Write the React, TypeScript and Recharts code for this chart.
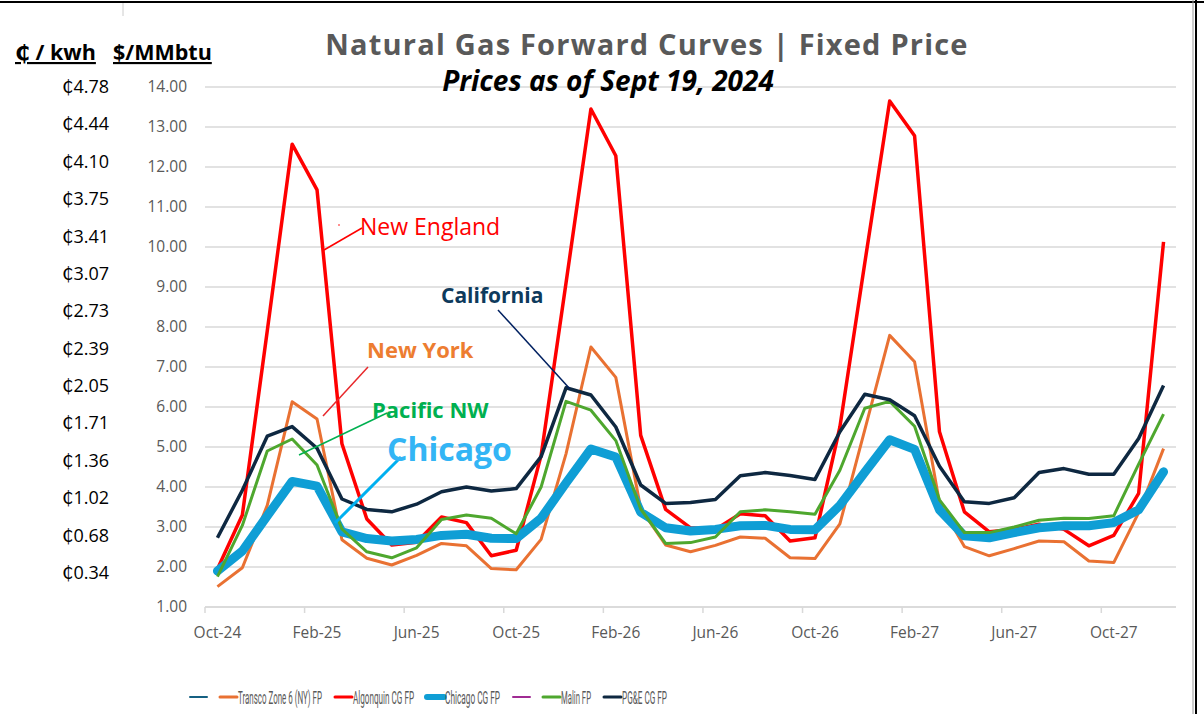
import React, { useLayoutEffect, useRef, useState } from "react";
import { CartesianGrid, Line, LineChart, XAxis, YAxis } from "recharts";

const months = [
  "Oct-24", "Nov-24", "Dec-24",
  "Jan-25", "Feb-25", "Mar-25", "Apr-25", "May-25", "Jun-25", "Jul-25", "Aug-25", "Sep-25", "Oct-25", "Nov-25", "Dec-25",
  "Jan-26", "Feb-26", "Mar-26", "Apr-26", "May-26", "Jun-26", "Jul-26", "Aug-26", "Sep-26", "Oct-26", "Nov-26", "Dec-26",
  "Jan-27", "Feb-27", "Mar-27", "Apr-27", "May-27", "Jun-27", "Jul-27", "Aug-27", "Sep-27", "Oct-27", "Nov-27", "Dec-27",
];

// $/MMbtu
const transco = [
  1.51, 1.98, 3.54, 6.13, 5.7, 2.68, 2.22, 2.05, 2.29, 2.59, 2.53, 1.96, 1.93,
  2.69, 4.83, 7.5, 6.74, 3.46, 2.55, 2.38, 2.54, 2.75, 2.72, 2.23, 2.21,
  3.08, 5.43, 7.79, 7.13, 3.6, 2.51, 2.28, 2.46, 2.65, 2.63, 2.15, 2.11, 3.36, 4.96,
];
const algonquin = [
  1.95, 3.3, 7.9, 12.57, 11.43, 5.08, 3.2, 2.55, 2.62, 3.25, 3.11, 2.28, 2.42,
  4.79, 9.1, 13.45, 12.28, 5.29, 3.44, 2.98, 2.94, 3.33, 3.28, 2.65, 2.73,
  5.5, 9.6, 13.65, 12.78, 5.38, 3.38, 2.88, 2.94, 3.07, 2.94, 2.53, 2.79, 3.84, 10.13,
];
const chicago = [
  1.9, 2.4, 3.28, 4.14, 4.02, 2.88, 2.71, 2.65, 2.69, 2.79, 2.82, 2.72, 2.71,
  3.22, 4.1, 4.95, 4.75, 3.37, 2.98, 2.9, 2.94, 3.03, 3.04, 2.94, 2.93,
  3.54, 4.37, 5.18, 4.94, 3.43, 2.78, 2.73, 2.86, 2.98, 3.03, 3.03, 3.11, 3.43, 4.38,
];
const malin = [
  1.76, 3.04, 4.9, 5.2, 4.55, 2.95, 2.38, 2.23, 2.48, 3.19, 3.3, 3.22, 2.83,
  4.0, 6.14, 5.92, 5.16, 3.45, 2.59, 2.61, 2.75, 3.38, 3.43, 3.38, 3.32,
  4.42, 5.97, 6.14, 5.52, 3.68, 2.86, 2.86, 3.0, 3.17, 3.22, 3.21, 3.28, 4.57, 5.82,
];
const pge = [
  2.73, 3.92, 5.27, 5.51, 4.97, 3.7, 3.44, 3.38, 3.57, 3.88, 4.0, 3.9, 3.96,
  4.76, 6.48, 6.3, 5.5, 4.05, 3.59, 3.61, 3.69, 4.28, 4.36, 4.29, 4.19,
  5.38, 6.32, 6.18, 5.78, 4.52, 3.63, 3.59, 3.73, 4.36, 4.46, 4.32, 4.32, 5.21, 6.54,
];

const usdTicks = [1, 2, 3, 4, 5, 6, 7, 8, 9, 10, 11, 12, 13, 14];
const centTicks = [
  "₵0.34", "₵0.68", "₵1.02", "₵1.36", "₵1.71", "₵2.05", "₵2.39",
  "₵2.73", "₵3.07", "₵3.41", "₵3.75", "₵4.10", "₵4.44", "₵4.78",
];

const legendNames = ["", "Transco Zone 6 (NY) FP", "Algonquin CG FP", "Chicago CG FP", "", "Malin FP", "PG&E CG FP"];

const data = months.map((m, i) => ({
  month: m,
  transco: transco[i],
  algonquin: algonquin[i],
  chicago: chicago[i],
  malin: malin[i],
  pge: pge[i],
}));

// plot box (page px)
const PLOT_LEFT = 205;
const PLOT_RIGHT = 1176;
const PLOT_TOP = 87;
const PLOT_BOTTOM = 607;
const BAND = (PLOT_RIGHT - PLOT_LEFT) / months.length;

const FONT = "'Open Sans', 'DejaVu Sans', sans-serif";
const GRID = "#D9D9D9";

const legendStyle = [
  { color: "#156082", width: 2, textW: 0 },
  { color: "#E97132", width: 3, textW: 84 },
  { color: "#FF0000", width: 3, textW: 61 },
  { color: "#0F9ED5", width: 6, textW: 55 },
  { color: "#A02B93", width: 2, textW: 0 },
  { color: "#4EA72E", width: 3, textW: 30 },
  { color: "#0E2841", width: 3, textW: 45 },
];

const YTick = (props: any) => {
  const { y, payload } = props;
  const idx = usdTicks.indexOf(payload.value);
  // the ¢ column sits in its own text box, slightly tighter than the grid
  const cy = PLOT_TOP + (y - PLOT_TOP) * (486 / 520);
  return (
    <g>
      <text x={187} y={y} dy={5} textAnchor="end" fill="#595959" fontSize={15.5} fontFamily={FONT}>
        {payload.value.toFixed(2)}
      </text>
      <text x={109} y={cy} dy={6} textAnchor="end" fill="#000" fontSize={18} fontFamily={FONT}>
        {centTicks[idx]}
      </text>
    </g>
  );
};

const XTick = (props: any) => {
  const { x, payload } = props;
  return (
    <g>
      <line x1={x - BAND / 2} x2={x - BAND / 2} y1={PLOT_BOTTOM} y2={PLOT_BOTTOM + 6} stroke={GRID} strokeWidth={1.5} />
      <text x={x} y={PLOT_BOTTOM + 31} textAnchor="middle" fill="#595959" fontSize={15.5} fontFamily={FONT}>
        {payload.value}
      </text>
    </g>
  );
};

// legend text in the source is a very condensed face, squeeze it to the same width
const NarrowLabel = ({ x, y, w, children }: { x: number; y: number; w: number; children: string }) => {
  const ref = useRef<SVGTextElement>(null);
  const [k, setK] = useState(0.5);
  useLayoutEffect(() => {
    const el = ref.current;
    if (el) {
      const len = el.getComputedTextLength();
      if (len > 0) setK(w / len);
    }
  }, [w]);
  return (
    <text
      ref={ref}
      transform={`translate(${x},${y}) scale(${k},1)`}
      fill="#595959"
      fontSize={19}
      fontFamily="Roboto, 'Noto Sans', sans-serif"
    >
      {children}
    </text>
  );
};

const LegendRow = () => {
  let cx = 190;
  const items = legendNames.map((name, i) => {
    const st = legendStyle[i];
    const x0 = cx;
    cx += 18 + (name ? st.textW + 1 : 0) + 12;
    return (
      <g key={i}>
        <line x1={x0} x2={x0 + 17} y1={697} y2={697} stroke={st.color} strokeWidth={st.width} strokeLinecap="round" />
        {name && (
          <NarrowLabel x={x0 + 18} y={704} w={st.textW}>
            {name}
          </NarrowLabel>
        )}
      </g>
    );
  });
  return <g>{items}</g>;
};

export default function App() {
  return (
    <div style={{ position: "fixed", left: 0, top: 0, width: 1204, height: 714, background: "#fff", overflow: "hidden" }}>
      <div style={{ position: "absolute", left: 0, top: 0 }}>
        <LineChart
          width={1204}
          height={714}
          data={data}
          margin={{ top: PLOT_TOP, right: 1204 - PLOT_RIGHT, bottom: 714 - PLOT_BOTTOM - 40, left: PLOT_LEFT - 120 }}
        >
          <CartesianGrid vertical={false} stroke={GRID} strokeWidth={1.5} />
          <XAxis
            dataKey="month"
            interval={3}
            height={40}
            padding={{ left: BAND / 2, right: BAND / 2 }}
            axisLine={{ stroke: GRID, strokeWidth: 1.5 }}
            tickLine={false}
            tick={<XTick />}
          />
          <YAxis
            width={120}
            domain={[1, 14]}
            ticks={usdTicks}
            axisLine={false}
            tickLine={false}
            tick={<YTick />}
          />
          <Line dataKey="transco" stroke="#E97132" strokeWidth={3} dot={false} activeDot={false} isAnimationActive={false} strokeLinejoin="round" />
          <Line dataKey="algonquin" stroke="#FF0000" strokeWidth={3.5} dot={false} activeDot={false} isAnimationActive={false} strokeLinejoin="round" />
          <Line dataKey="chicago" stroke="#0F9ED5" strokeWidth={9} dot={false} activeDot={false} isAnimationActive={false} strokeLinejoin="round" strokeLinecap="round" />
          <Line dataKey="malin" stroke="#4EA72E" strokeWidth={3} dot={false} activeDot={false} isAnimationActive={false} strokeLinejoin="round" />
          <Line dataKey="pge" stroke="#0E2841" strokeWidth={3.5} dot={false} activeDot={false} isAnimationActive={false} strokeLinejoin="round" />
        </LineChart>
      </div>

      <svg width={1204} height={714} style={{ position: "absolute", left: 0, top: 0, pointerEvents: "none" }}>
        {/* frame */}
        <line x1={0} x2={1204} y1={2} y2={2} stroke="#000" strokeWidth={2} />
        <line x1={1193} x2={1193} y1={0} y2={714} stroke="#999" strokeWidth={1} />
        <line x1={1196} x2={1196} y1={0} y2={714} stroke="#000" strokeWidth={2} />
        <line x1={123} x2={123} y1={3} y2={16} stroke="#ccc" strokeWidth={1} />

        {/* titles */}
        <text x={647} y={55} textAnchor="middle" fill="#595959" fontSize={29} fontWeight={700} letterSpacing={1.2} fontFamily={FONT}>
          Natural Gas Forward Curves | Fixed Price
        </text>
        <text x={608} y={91} textAnchor="middle" fill="#000" fontSize={28} fontWeight={700} fontStyle="italic" fontFamily={FONT}>
          Prices as of Sept 19, 2024
        </text>
        <text x={15} y={60} fill="#000" fontSize={21.5} fontWeight={700} fontFamily={FONT} textDecoration="underline">
          ₵ / kwh
        </text>
        <text x={113} y={60} fill="#000" fontSize={21.5} fontWeight={700} fontFamily={FONT} textDecoration="underline">
          $/MMbtu
        </text>

        {/* callouts */}
        <line x1={324} y1={250} x2={362} y2={228} stroke="#FF0000" strokeWidth={1.5} />
        <circle cx={339} cy={225} r={0.8} fill="#FF0000" />
        <text x={360} y={235} fill="#FF0000" fontSize={23} fontFamily={FONT}>New England</text>

        <line x1={498} y1={310} x2={570} y2={389} stroke="#002060" strokeWidth={1.5} />
        <text x={441} y={303} fill="#0E3A5C" fontSize={21} fontWeight={700} fontFamily={FONT}>California</text>

        <line x1={323} y1={416} x2={368} y2={367} stroke="#E8282B" strokeWidth={1.5} />
        <text x={367} y={358} fill="#ED7D31" fontSize={22} fontWeight={700} fontFamily={FONT}>New York</text>

        <line x1={299} y1={455} x2={387} y2={413} stroke="#00B050" strokeWidth={1.5} />
        <text x={372} y={418} fill="#00B050" fontSize={22} fontWeight={700} fontFamily={FONT}>Pacific NW</text>

        <line x1={335} y1={523} x2={401} y2={457} stroke="#00B0F0" strokeWidth={3} />
        <text x={387} y={461} fill="#33B5F5" fontSize={32} fontWeight={700} fontFamily={FONT}>Chicago</text>

        <LegendRow />
      </svg>
    </div>
  );
}
